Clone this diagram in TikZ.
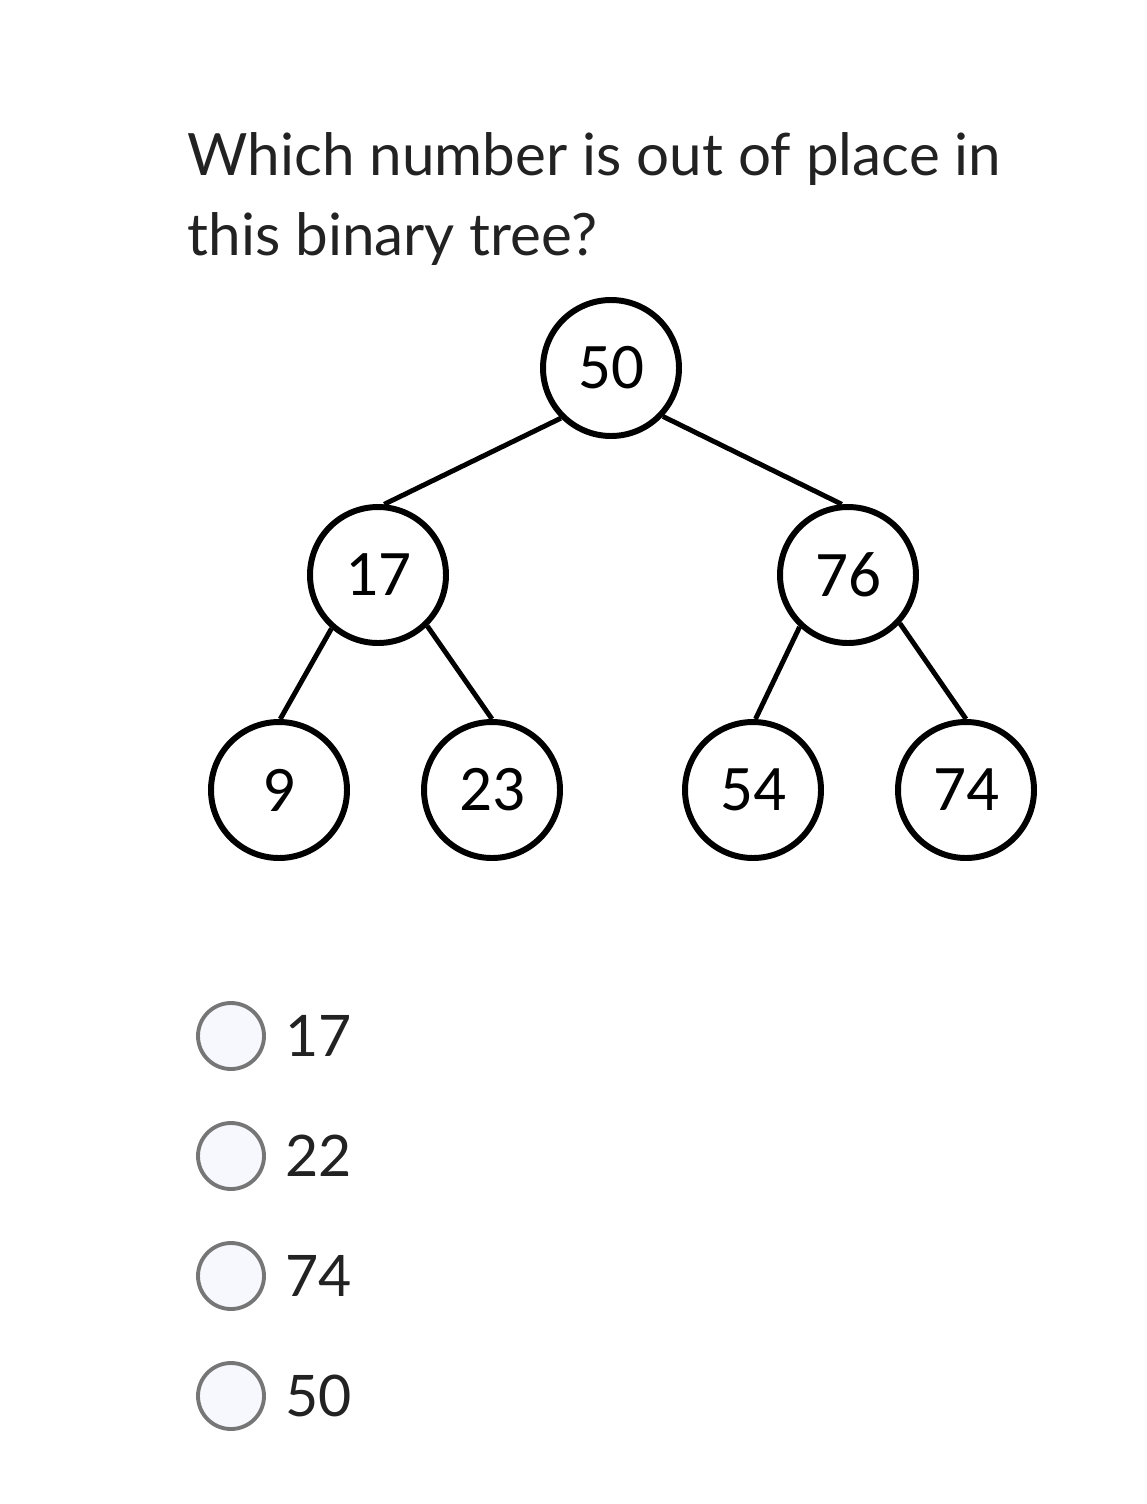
\documentclass[tikz,border=0pt]{standalone}
\usepackage{fontspec}
\setmainfont{Lato}
\newfontfamily\treefont{Carlito}
\usepackage{tikz}
\usetikzlibrary{positioning}
\definecolor{textgray}{HTML}{222222}
\definecolor{radiogray}{HTML}{767676}
\definecolor{radiofill}{HTML}{F6F8FD}
\tikzset{main node/.style={circle, draw, line width=1.7pt, minimum size=1.36cm, inner sep=0pt, font=\treefont\fontsize{18.5pt}{20pt}\selectfont},
  radio/.style={circle, draw=radiogray, fill=radiofill, line width=1.1pt, minimum size=0.66cm, inner sep=0pt},
  answer/.style={inner sep=0pt, text=textgray, font=\fontsize{16.3pt}{18pt}\selectfont},
  question/.style={anchor=base west, inner sep=0pt, text=textgray, font=\fontsize{16.6pt}{20pt}\selectfont},}

\begin{document}
\begin{tikzpicture}[on grid]
        \useasboundingbox (0,0) rectangle (11.47,-15.04);
        % Question
        \node[question] (q1) at (1.87,-1.75) {Which number is out of place in};
        \node[question] (q2) at (1.87,-2.55) {this binary tree?};
        % Nodes
        \node[main node] (50) at (6.11,-3.68) {50};
        \node[main node] [below left = 2.07cm and 2.33cm of 50] (17) {17};
        \node[main node] [below right = 2.07cm and 2.37cm of 50] (76) {76};
        \node[main node] [below left = 2.15cm and 0.99cm of 17] (9) {9};
        \node[main node] [below right = 2.15cm and 1.14cm of 17] (23) {23};
        \node[main node] [below left = 2.15cm and 0.95cm of 76] (54) {54};
        \node[main node] [below right = 2.15cm and 1.18cm of 76] (74) {74};
        % Paths
        \path[draw, line width=1.4pt]
        (50.225) edge node {} (17.85)
        (50.317) edge node {} (76.95)
        (17.229) edge node {} (9.89)
        (17.314) edge node {} (23.90)
        (76.227) edge node {} (54.88)
        (76.317) edge node {} (74.90);
        % Choices
        \node[radio] (r1) at (2.31,-10.36) {};
        \node[radio] [below = 1.2cm of r1] (r2) {};
        \node[radio] [below = 1.2cm of r2] (r3) {};
        \node[radio] [below = 1.2cm of r3] (r4) {};
        \node[answer, anchor=west] (a1) at ([xshift=0.19cm]r1.east) {17};
        \node[answer, anchor=west] (a2) at ([xshift=0.19cm]r2.east) {22};
        \node[answer, anchor=west] (a3) at ([xshift=0.19cm]r3.east) {74};
        \node[answer, anchor=west] (a4) at ([xshift=0.19cm]r4.east) {50};
    \end{tikzpicture}
\end{document}
